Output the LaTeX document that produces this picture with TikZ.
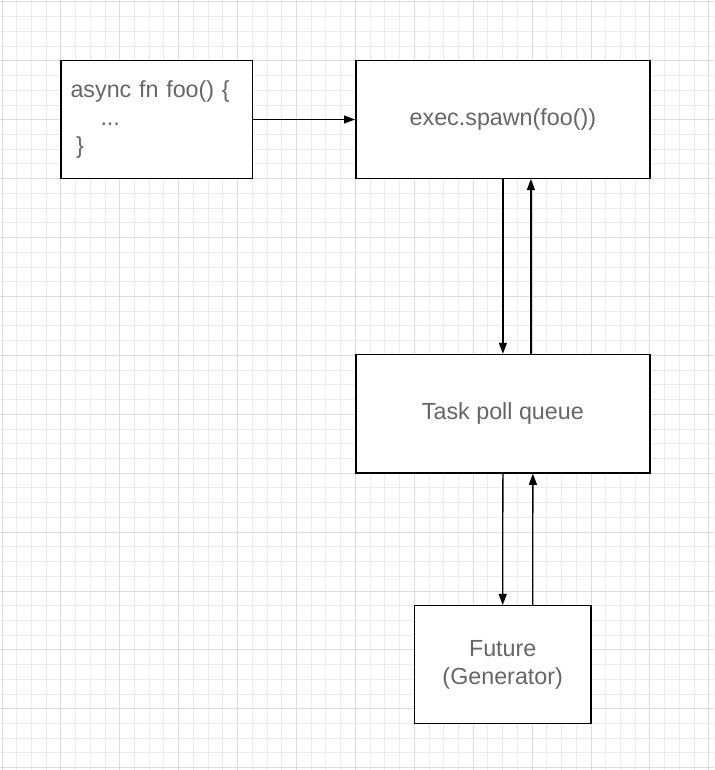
\documentclass[tikz,border=0pt]{standalone}
\usepackage{fontspec}
\setmainfont{Liberation Sans}
\usetikzlibrary{arrows.meta}
\definecolor{txt}{HTML}{666666}
\definecolor{minorgrid}{HTML}{ECECEC}
\definecolor{majorgrid}{HTML}{DCDCDC}
\begin{document}
\begin{tikzpicture}[x=1pt,y=-1pt,
  box/.style={draw=black, line width=1.5pt, fill=white, inner sep=0pt, text=txt,
    font=\fontsize{23.3}{28}\selectfont},
  arr/.style={draw=black, line width=1.3pt, -{Triangle[length=11pt,width=8pt]}},
  minorline/.style={draw=minorgrid, line width=1pt},
  majorline/.style={draw=majorgrid, line width=1pt}]
\useasboundingbox (0,0) rectangle (714,770);
\fill[white] (0,0) rectangle (714,770);
% grid
\foreach \i in {0,...,48} {\draw[minorline] ({2+\i*14.725},0) -- ({2+\i*14.725},770);}
\foreach \i in {0,...,52} {\draw[minorline] (0,{2+\i*14.725}) -- (714,{2+\i*14.725});}
\foreach \i in {0,...,12} {\draw[majorline] ({2+\i*58.9},0) -- ({2+\i*58.9},770);}
\foreach \i in {0,...,13} {\draw[majorline] (0,{2+\i*58.9}) -- (714,{2+\i*58.9});}
% boxes
\node[box, minimum width=191.5pt, minimum height=117.5pt, text width=172pt, align=left]
  (b1) at (156.5,119.5) {async fn foo() \{\\\hspace*{30pt}...\\\hspace*{5.5pt}\}};
\node[box, minimum width=294.3pt, minimum height=117.6pt] (b2) at (502.9,119.5) {exec.spawn(foo())};
\node[box, minimum width=294.3pt, minimum height=118.5pt] (b3) at (502.9,413.75) {Task poll queue};
\node[box, minimum width=176.7pt, minimum height=117.6pt, align=center] (b4) at (502.7,664.5) {Future\\(Generator)};
% connectors
\draw[arr] (b1.east) -- (b2.west);
\draw[arr] (b2.south) -- (b3.north);
\draw[arr] ([xshift=28pt]b3.north) -- ([xshift=28pt]b2.south);
\draw[arr] (b3.south) -- (b4.north);
\draw[arr] ([xshift=30pt]b4.north) -- ([xshift=30pt]b3.south);
\end{tikzpicture}
\end{document}
